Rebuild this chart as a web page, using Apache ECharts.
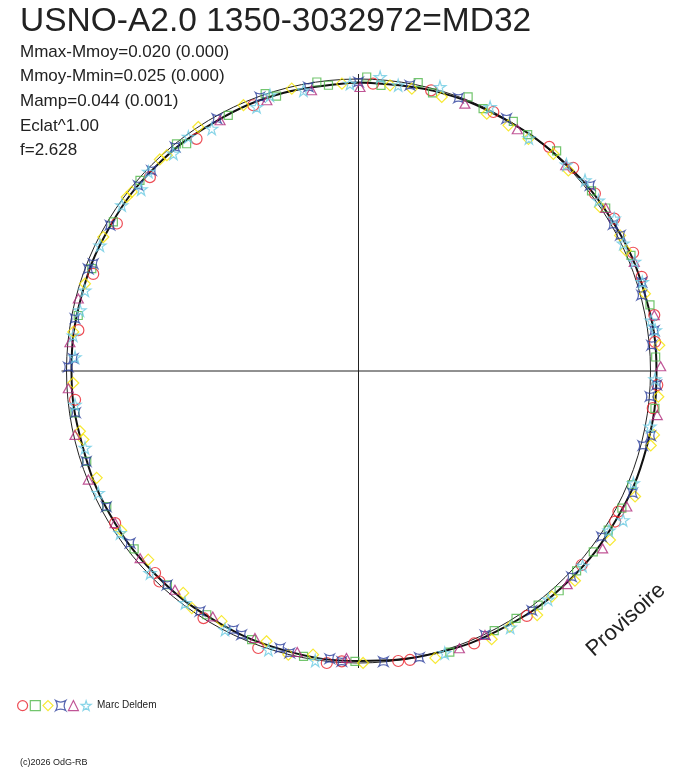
<!DOCTYPE html>
<html>
<head>
<meta charset="utf-8">
<title>USNO-A2.0 1350-3032972=MD32</title>
<script src="https://cdn.jsdelivr.net/npm/echarts@6/dist/echarts.min.js"></script>
<style>
  html, body { margin: 0; padding: 0; background: #fff; }
  #chart { width: 688px; height: 768px; }
</style>
</head>
<body>
<div id="chart"></div>
<script>
// titre et textes
var titleText = 'USNO-A2.0 1350-3032972=MD32';
var infoLines = ['Mmax-Mmoy=0.020 (0.000)', 'Mmoy-Mmin=0.025 (0.000)', 'Mamp=0.044 (0.001)', 'Eclat^1.00', 'f=2.628'];
var observer = 'Marc Deldem';
var copyright = '(c)2026 OdG-RB';
var stamp = 'Provisoire';

// rayon du cercle moyen et rayon max du repere (unites du graphe = px)
var meanRadius = 292;
var outerRadius = 320;

// courbe ajustee : phase en degres / rayon
var curveAngle  = [0, 15, 30, 45, 60, 75, 90, 105, 120, 135, 150, 165, 180, 195, 210, 225, 240, 255, 270, 285, 300, 315, 330, 345, 360];
var curveRadius = [288.5, 290, 291, 293, 295, 296.5, 298, 298, 297.5, 297, 295, 292.5, 290, 289, 288, 287.5, 287, 286, 287, 287, 287.5, 288, 287.5, 288, 288.5];

// mesures : [phase en degres, rayon] par serie
var redPts = [[338.4,285.8],[325.1,283.1],[312.9,284.8],[301.4,283.1],[290.1,282.5],[278.3,283.1],
  [2.9,287.7],[14.5,289.9],[27.5,292],[40.4,294.3],[46.6,295.5],[53.1,295.6],[59.2,297.7],[66.7,299],[71.6,298.4],[79.3,301],[84.4,297.9],
  [92.7,299.1],[97.2,296.6],[118.4,295.5],[120.4,297.5],[131,295.7],[145.5,297.2],[157,296],[169.9,293.5],[172.2,292.7],
  [264.2,284.9],[238,287],[225.2,286.7],[223.4,289.7],[212.1,291.7],[199.9,294.6],[186.2,293.7],[183.3,290.8]];
var greenPts = [[354,287.3],[351.8,292],[343.4,286.9],[341.4,292.6],[333,286.9],[322.9,284.9],[321.3,291.1],[311.1,290],[301.3,286.9],[291,285.7],[281.2,285.7],
  [1.6,294.1],[4.5,286.6],[11.7,294.4],[14.9,287.9],[21.8,295.2],[25.4,290.5],[31.8,293.8],[35.6,290.6],[42,296.1],[52.3,294.5],[56.6,296.1],[67,296],[77.2,298.9],[87.3,297.5],
  [97.2,298.8],[112.6,296],[117.5,296.9],[122.5,296.1],[127.6,296.3],[132.5,295.8],[137.6,297.6],[142.5,295.1],[147.5,293.2],[152.4,292.9],[162,295.5],
  [261.6,286.6],[251.6,286.4],[241.7,285.9],[231.6,286.3],[221.8,286.7],[211.9,287.1],[201.7,289.1],[190.9,290.6],[180.7,290.3]];
var yellowPts = [[356.7,287.8],[346.7,290.1],[336.6,289.6],[326.7,291.9],[318.4,288.6],[316.8,290.2],[308.3,288.9],[306.9,289.8],[297.7,288.2],[287.7,287.1],[277.8,287.9],
  [6.3,287.4],[10.7,287.3],[16.9,286.4],[26.5,287.5],[31.4,287.8],[36.2,287.7],[41.9,291.8],[46.3,290.3],[55.8,291.9],[62.6,294.6],[65.7,293.2],[74.9,296.7],
  [85.1,301.9],[94.9,300.9],[102.2,302.3],[104.3,301.6],[114.4,303.7],[123.9,303],[134.1,301.4],[139.4,297.1],[143.8,302.5],[149.4,297.2],[153.6,299.5],[165,297],
  [267.6,285.5],[257.8,285],[256,283.6],[247.8,282.8],[236.1,286],[228.1,282.5],[218.3,282.8],[215.1,289.8],[208.7,285.2],[198.8,285.5],[193.9,292.2],[189.1,287.3],[179.1,292]];
var bluePts = [[0,289],[350,288.4],[340.2,291.2],[330.7,289.4],[320.7,289.6],[314.1,288.2],[310.1,288],[300.4,288.1],[292,286.1],[290.7,288.9],[280.5,288.3],[272.5,285.5],[270.8,290.2],
  [10.2,290.3],[20.1,290.7],[30.4,292.6],[51.3,296.8],[60.1,293.8],[62.6,295],[72.6,297],[75,293.1],[82.2,298.6],[85,294.3],
  [92.7,298.5],[95,292.6],[102.5,299.3],[104.7,293.9],[114,300],[124.3,294.3],[134,296.2],[144.1,295.7],[154.4,292.7],[168,293],[175.1,291.7],
  [261.6,286],[251.6,287],[241.7,286.5],[233,286],[221.8,287.2],[213.4,287.9],[205.8,287.4],[203.9,288.4],[195.8,287.9],[193.7,290.2],[185.7,289.1],[183.3,291]];
var purplePts = [[350.5,284.6],[341.3,285.8],[331.1,286.4],[284.5,289.4],[275.7,290],
  [0.3,284],[21.7,287.7],[33.3,289.2],[45.2,292],[56.6,296.1],[68.4,296.6],[79.3,301],[89.1,302.2],[98.4,302],
  [116.8,300.6],[126,301.8],[135.6,298.3],[154.4,292.7],[160,295],
  [266.6,290.7],[257.3,290.6],[248.1,291.2],[238,287],[229.4,287.6],[220,285.5],[210.7,285.4],[201.2,286.4],[192.3,287.6],[182.4,287.2]];
var cyanPts = [[358.3,287.4],[348.9,286],[342.2,289.6],[338.9,283],[328.8,283.3],[324,289.4],[319.6,285.5],[313.5,289.5],[309.9,283.3],[305,289],[295.9,287.4],[286.4,285.2],[282.3,285],[277.1,287.4],[272.8,283.8],
  [4.2,294.8],[7.9,288.5],[16,295.5],[26.5,294.9],[36.2,288.5],[45.2,293],[49.9,296.1],[54.6,294.4],[59.2,297.7],[64.3,293.8],[68.4,297],[72.6,297.4],[80.2,296.9],[82.2,299.6],
  [91.6,296.6],[100.8,296.8],[112.2,296.9],[119.4,303.8],[122.5,297],[131,297],[140.3,296.9],[149.4,298],[163,295],
  [263.2,285.5],[254.3,284.1],[244.9,287.4],[235.8,288.3],[225.9,290.3],[216.8,289.7],[207.3,291.1],[197.9,292.9],[188.5,292.9]];

var starPath = 'path://M50,2 L61,38 L98,38 L68,60 L79,96 L50,74 L21,96 L32,60 L2,38 L39,38 Z';
var astroidPath = 'path://M4,4 Q50,32 96,4 Q68,50 96,96 Q50,68 4,96 Q32,50 4,4 Z';

function toPolar(pts) {
  var out = [];
  for (var i = 0; i < pts.length; i++) {
    out.push([pts[i][1], pts[i][0]]); // [rayon, angle]
  }
  return out;
}

function marks(name, pts, symbol, size, color) {
  return {
    name: name,
    type: 'scatter',
    coordinateSystem: 'polar',
    polarIndex: 2,
    symbol: symbol,
    symbolSize: size,
    data: toPolar(pts),
    itemStyle: { color: 'transparent', borderColor: color, borderWidth: 1.2 },
    emphasis: { disabled: true },
    z: 3
  };
}

var curveData = [];
for (var i = 0; i < curveAngle.length; i++) {
  curveData.push([curveRadius[i], curveAngle[i]]);
}

var chart = echarts.init(document.getElementById('chart'), null, { renderer: 'canvas' });

var font = '"Liberation Sans", Arial, sans-serif';
var graphics = [
  { type: 'text', x: 20, y: 22, style: { text: titleText, font: '33.5px ' + font, fill: '#222', verticalAlign: 'middle' } }
];
for (var k = 0; k < infoLines.length; k++) {
  graphics.push({ type: 'text', x: 20, y: 52 + k * 24.7,
    style: { text: infoLines[k], font: '17px ' + font, fill: '#222', verticalAlign: 'middle' } });
}
graphics.push({ type: 'text', x: 97, y: 705, style: { text: observer, font: '10px ' + font, fill: '#222', verticalAlign: 'middle' } });
graphics.push({ type: 'text', x: 20, y: 763, style: { text: copyright, font: '9px ' + font, fill: '#222', verticalAlign: 'middle' } });
graphics.push({ type: 'text', x: 626, y: 620, rotation: 42 * Math.PI / 180,
  style: { text: stamp, font: '22px ' + font, fill: '#222', align: 'center', verticalAlign: 'middle' } });

function hiddenRadius(idx, max) {
  return { polarIndex: idx, type: 'value', min: 0, max: max,
    axisLine: { show: false }, axisTick: { show: false }, axisLabel: { show: false }, splitLine: { show: false } };
}

var option = {
  backgroundColor: '#fff',
  animation: false,
  graphic: graphics,
  legend: {
    left: 17, top: 700, padding: 0,
    itemWidth: 10, itemHeight: 10, itemGap: 1.5,
    formatter: function () { return ''; },
    selectedMode: false,
    itemStyle: { borderWidth: 1.2 },
    data: ['r', 'g', 'y', 'b', 'p', 'c']
  },
  polar: [
    { center: [358.5, 371], radius: 297 },
    { center: [358.5, 371], radius: meanRadius },
    { center: [358.5, 371], radius: outerRadius }
  ],
  angleAxis: [
    { polarIndex: 0, type: 'value', min: 0, max: 360, interval: 90, startAngle: 90, clockwise: true,
      axisLine: { show: false }, axisTick: { show: false }, axisLabel: { show: false },
      splitLine: { show: true, lineStyle: { color: '#222', width: 1 } } },
    { polarIndex: 1, type: 'value', min: 0, max: 360, startAngle: 90, clockwise: true,
      axisLine: { show: true, lineStyle: { color: '#222', width: 1 } }, axisTick: { show: false }, axisLabel: { show: false },
      splitLine: { show: false } },
    { polarIndex: 2, type: 'value', min: 0, max: 360, startAngle: 90, clockwise: true,
      axisLine: { show: false }, axisTick: { show: false }, axisLabel: { show: false }, splitLine: { show: false } }
  ],
  radiusAxis: [
    hiddenRadius(0, 297),
    hiddenRadius(1, meanRadius),
    hiddenRadius(2, outerRadius)
  ],
  series: [
    {
      name: 'fit', type: 'line', coordinateSystem: 'polar', polarIndex: 2,
      data: curveData, smooth: 0.4, symbol: 'none', clip: false,
      lineStyle: { color: '#111', width: 2 }, z: 2, silent: true
    },
    marks('r', redPts, 'circle', 11, '#e8202a'),
    marks('g', greenPts, 'rect', 8, '#4fb748'),
    marks('y', yellowPts, 'diamond', 11, '#f5e400'),
    marks('b', bluePts, astroidPath, 9, '#2c3f9c'),
    marks('p', purplePts, 'triangle', [10, 9], '#b02a7c'),
    marks('c', cyanPts, starPath, 12, '#6ccbe2')
  ]
};
chart.setOption(option);
</script>
</body>
</html>
